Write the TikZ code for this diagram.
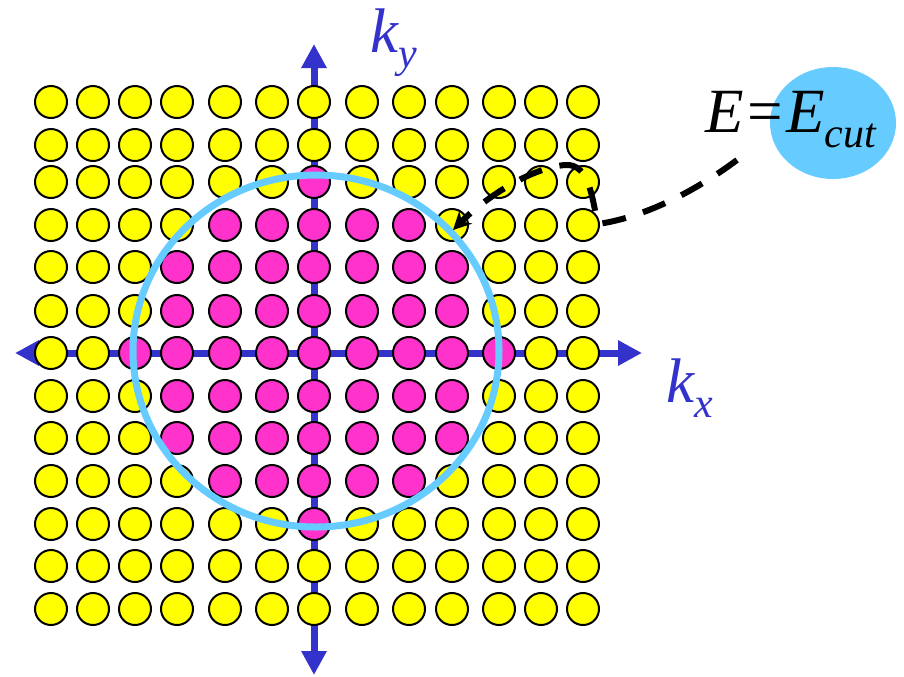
\documentclass[tikz,border=0pt]{standalone}
\usepackage{fontspec}
\setmainfont{Liberation Serif}
\usepackage{tikz}
\usetikzlibrary{arrows.meta}
\definecolor{kinside}{RGB}{255, 51, 204}
\definecolor{koutside}{RGB}{255, 255, 0}
\definecolor{axisblue}{RGB}{51, 51, 204}
\definecolor{cutblue}{RGB}{102, 204, 255}
\newcommand{\klabel}[2]{\itshape #1\raisebox{-7.5pt}{\fontsize{21}{21}\selectfont #2}}

\begin{document}
\begin{tikzpicture}[x=0.5pt,y=-0.5pt,
    dot/.style={circle, draw=black, line width=1pt, minimum size=16pt, inner sep=0pt},
    axis/.style={axisblue, line width=3.5pt, {Triangle[length=12pt,width=12pt]}-{Triangle[length=12pt,width=12pt]}},
    cutarrow/.style={black, line width=3pt, dash pattern=on 12pt off 9pt, -{Stealth[length=9pt,width=9pt]}},
    lab/.style={inner sep=0pt, anchor=base west, font=\fontsize{31.5}{36}\selectfont}]
    \useasboundingbox (0,0) rectangle (904,676);

    % axes
    \coordinate (xneg) at (15,353);
    \coordinate (xpos) at (642,353);
    \coordinate (yneg) at (314,675);
    \coordinate (ypos) at (314,44);
    \draw[axis] (xneg) -- (xpos);
    \draw[axis] (yneg) -- (ypos);

    % grid of k-points
    \foreach \yy [count=\r from 0] in {102,145,182,225,267,311,353,396,438,481,524,566,609}{
      \foreach \xx [count=\c from 0] in {51,93,135,177,225,272,314,362,409,452,499,541,583}{
        \pgfmathtruncatemacro{\dd}{(\c-6)^2+(\r-6)^2}
        \ifnum\dd<17 \def\dotcol{kinside}\else\def\dotcol{koutside}\fi
        \node[dot, fill=\dotcol] (d-\r-\c) at (\xx,\yy) {};
      }
    }

    % cutoff sphere
    \draw[cutblue, line width=3.5pt] (316,351) ellipse (91.5pt and 88pt);

    % labels
    \node[lab, text=axisblue] (ky) at (370,52) {\klabel{k}{y}};
    \node[lab, text=axisblue] (kx) at (666,402) {\klabel{k}{x}};
    \fill[cutblue] (833,123) ellipse (31.5pt and 28pt);
    \node[lab] (ecut) at (705,132) {\klabel{E=E}{cut}};

    % pointer to the sphere
    \coordinate (cutfrom) at (737,160);
    \coordinate (cutto) at (453,230);
    \draw[cutarrow] (cutfrom) .. controls (690,195) and (640,218) .. (598,224)
        .. controls (592,200) and (590,163) .. (565,165)
        .. controls (530,168) and (485,198) .. (cutto);
\end{tikzpicture}
\end{document}
